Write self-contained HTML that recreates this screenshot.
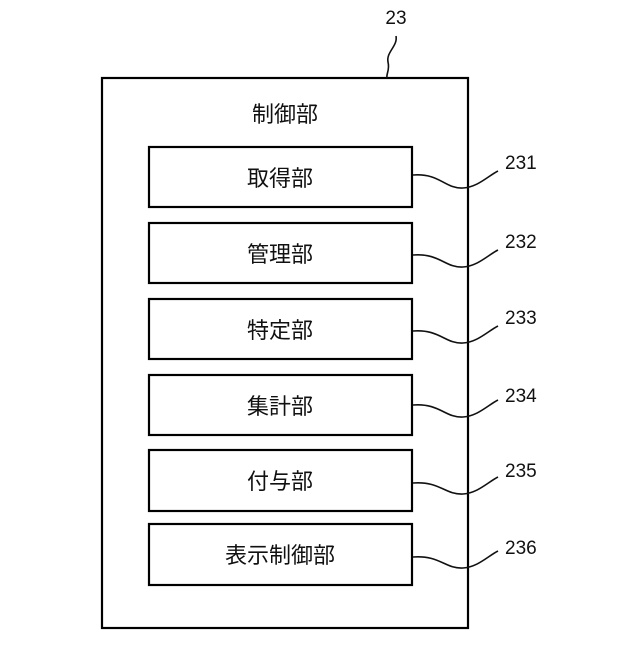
<!DOCTYPE html>
<html><head><meta charset="utf-8"><style>
body{margin:0;background:#fff}
svg text{font-family:"Liberation Sans","Noto Sans CJK JP",sans-serif;fill:#111}
</style></head><body>
<svg width="640" height="640" viewBox="0 0 640 640" xmlns="http://www.w3.org/2000/svg">
<rect x="102" y="78" width="366" height="550" fill="none" stroke="#000" stroke-width="2.2"/>
<text x="396" y="24" font-size="19" text-anchor="middle">23</text>
<path d="M396 36 C398 46 386 52 388 62 C390 70 386 74 387 78" fill="none" stroke="#111" stroke-width="1.6"/>
<text x="285" y="122" font-size="22" text-anchor="middle">制御部</text>
<g fill="none" stroke="#000" stroke-width="2.2">
<rect x="149" y="147" width="263" height="60"/>
<rect x="149" y="223" width="263" height="60"/>
<rect x="149" y="299" width="263" height="60"/>
<rect x="149" y="375" width="263" height="60"/>
<rect x="149" y="450" width="263" height="61"/>
<rect x="149" y="524" width="263" height="61"/>
</g>
<g font-size="22" text-anchor="middle">
<text x="280" y="186">取得部</text>
<text x="280" y="262">管理部</text>
<text x="280" y="338">特定部</text>
<text x="280" y="414">集計部</text>
<text x="280" y="489">付与部</text>
<text x="280" y="563">表示制御部</text>
</g>
<g fill="none" stroke="#111" stroke-width="1.6">
<path d="M413 175 C440 173 445 189 463 188 C478 187 488 176 498 171"/>
<path d="M413 255 C440 253 445 268 463 267 C478 266 488 255 498 250"/>
<path d="M413 331 C440 329 445 344 463 343 C478 342 488 331 498 326"/>
<path d="M413 405 C440 403 445 418 463 417 C478 416 488 405 498 400"/>
<path d="M413 483 C440 481 445 495 463 494 C478 493 488 482 498 477"/>
<path d="M413 557 C440 555 445 569 463 568 C478 567 488 556 498 551"/>
</g>
<g font-size="19">
<text x="505" y="169">231</text>
<text x="505" y="248">232</text>
<text x="505" y="324">233</text>
<text x="505" y="402">234</text>
<text x="505" y="477">235</text>
<text x="505" y="554">236</text>
</g>
</svg>
</body></html>
